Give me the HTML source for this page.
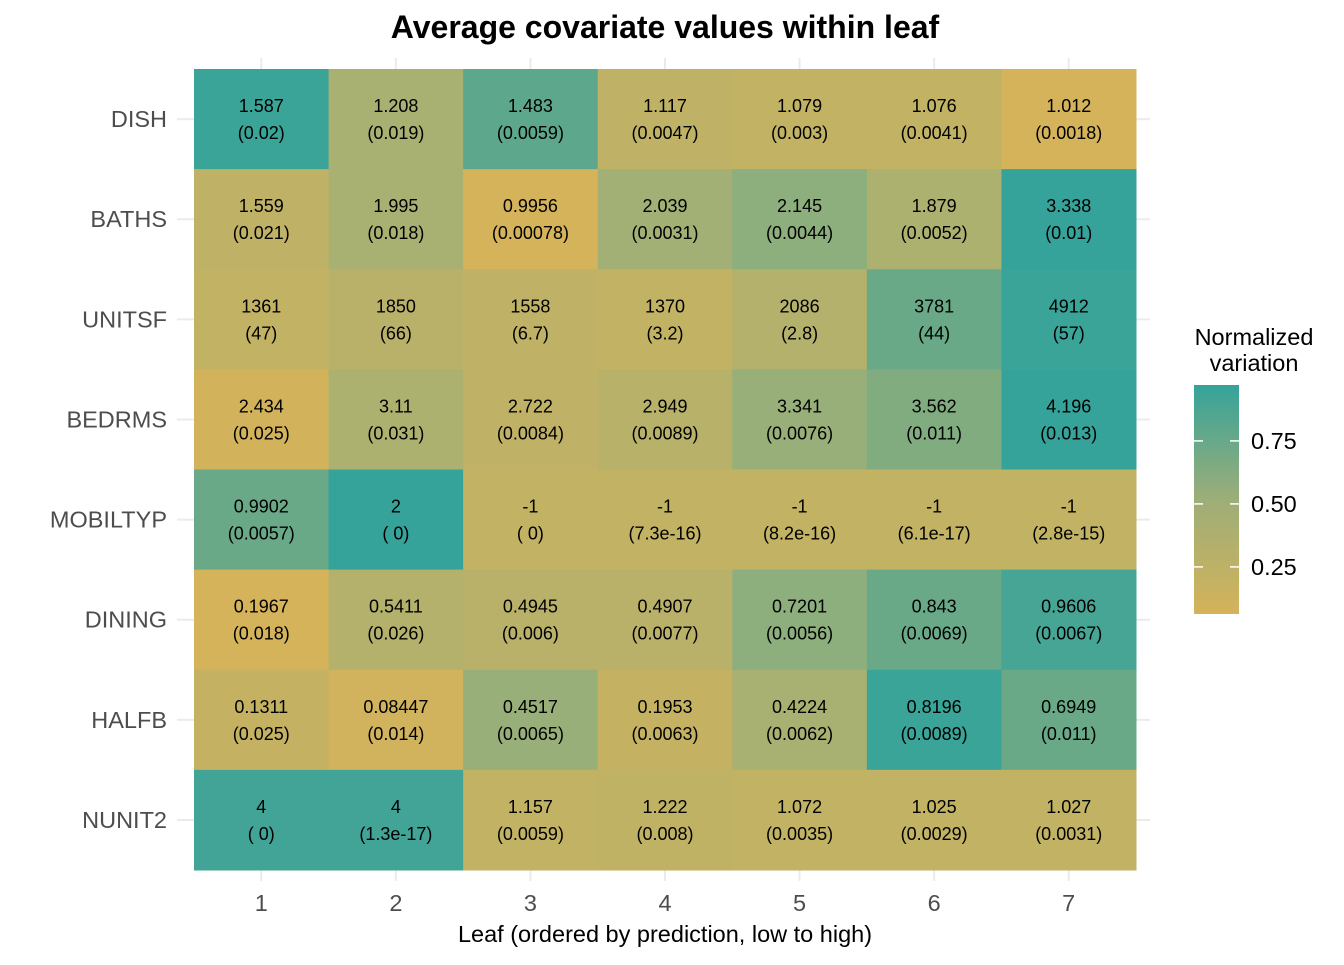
<!DOCTYPE html>
<html><head><meta charset="utf-8"><style>
body{margin:0;background:#fff;font-family:"Liberation Sans",Arial,sans-serif;}
</style></head><body>
<svg id="chart" width="1344" height="960" xmlns="http://www.w3.org/2000/svg" font-family="Liberation Sans, Arial, sans-serif">
<defs><linearGradient id="lg" x1="0" y1="1" x2="0" y2="0">
<stop offset="0" stop-color="#D4B35A"/><stop offset="0.5" stop-color="#9DAE78"/><stop offset="1" stop-color="#35A39A"/></linearGradient></defs>
<text x="665" y="38" text-anchor="middle" font-size="32" font-weight="bold" fill="#000">Average covariate values within leaf</text>
<g id="grid"></g><g id="cells"></g><g id="yaxis"></g><g id="xaxis"></g>
<text x="665" y="942" text-anchor="middle" font-size="23.5" fill="#000">Leaf (ordered by prediction, low to high)</text>
<g>
<text x="1254" y="345" text-anchor="middle" font-size="23.5">Normalized</text>
<text x="1254" y="371" text-anchor="middle" font-size="23.5">variation</text>
<rect x="1194" y="385" width="45" height="229" fill="url(#lg)"/>
<g id="legticks"></g>
</g>
</svg>
<script>
const leaves=["1","2","3","4","5","6","7"];
const covariates=["DISH","BATHS","UNITSF","BEDRMS","MOBILTYP","DINING","HALFB","NUNIT2"];
const means=[
["1.587","1.208","1.483","1.117","1.079","1.076","1.012"],
["1.559","1.995","0.9956","2.039","2.145","1.879","3.338"],
["1361","1850","1558","1370","2086","3781","4912"],
["2.434","3.11","2.722","2.949","3.341","3.562","4.196"],
["0.9902","2","-1","-1","-1","-1","-1"],
["0.1967","0.5411","0.4945","0.4907","0.7201","0.843","0.9606"],
["0.1311","0.08447","0.4517","0.1953","0.4224","0.8196","0.6949"],
["4","4","1.157","1.222","1.072","1.025","1.027"]];
const ses=[
["(0.02)","(0.019)","(0.0059)","(0.0047)","(0.003)","(0.0041)","(0.0018)"],
["(0.021)","(0.018)","(0.00078)","(0.0031)","(0.0044)","(0.0052)","(0.01)"],
["(47)","(66)","(6.7)","(3.2)","(2.8)","(44)","(57)"],
["(0.025)","(0.031)","(0.0084)","(0.0089)","(0.0076)","(0.011)","(0.013)"],
["(0.0057)","( 0)","( 0)","(7.3e-16)","(8.2e-16)","(6.1e-17)","(2.8e-15)"],
["(0.018)","(0.026)","(0.006)","(0.0077)","(0.0056)","(0.0069)","(0.0067)"],
["(0.025)","(0.014)","(0.0065)","(0.0063)","(0.0062)","(0.0089)","(0.011)"],
["( 0)","(1.3e-17)","(0.0059)","(0.008)","(0.0035)","(0.0029)","(0.0031)"]];
const normalized=[
[0.95,0.45,0.80,0.25,0.22,0.22,0.06],
[0.25,0.45,0.06,0.50,0.60,0.40,0.97],
[0.22,0.30,0.25,0.22,0.35,0.75,0.95],
[0.08,0.40,0.25,0.32,0.55,0.65,0.97],
[0.75,0.97,0.22,0.22,0.22,0.22,0.22],
[0.06,0.35,0.30,0.30,0.60,0.75,0.90],
[0.20,0.10,0.55,0.20,0.45,0.95,0.75],
[0.92,0.92,0.22,0.24,0.22,0.22,0.22]];
const legendTicks=[0.25,0.5,0.75];
const NS="http://www.w3.org/2000/svg";
const X0=194,X1=1136,Y0=69,Y1=870;
const cw=(X1-X0)/leaves.length, rh=(Y1-Y0)/covariates.length;
const xc=i=>X0+cw*(i+0.5), yc=j=>Y0+rh*(j+0.5);
const lmin=0.063,lmax=0.972;
const ly=v=>614-(v-lmin)/(lmax-lmin)*229;
function mix(a,b,t){return a.map((x,i)=>Math.round(x+(b[i]-x)*t));}
function color(v){const c0=[212,179,90],c1=[160,176,118],c2=[53,163,154];
 let t=Math.max(0,Math.min(1,(v-lmin)/(lmax-lmin)));
 const c=t<0.5?mix(c0,c1,t*2):mix(c1,c2,(t-0.5)*2);return `rgb(${c})`;}
function mk(tag,attrs,parent,txt){const e=document.createElementNS(NS,tag);for(const k in attrs)e.setAttribute(k,attrs[k]);if(txt!==undefined)e.textContent=txt;parent.appendChild(e);return e;}
const grid=document.getElementById('grid'),cells=document.getElementById('cells'),ya=document.getElementById('yaxis'),xa=document.getElementById('xaxis');
covariates.forEach((c,j)=>{
 const l=mk('line',{x1:177,x2:1150,y1:yc(j),y2:yc(j),stroke:'#ebebeb','stroke-width':2},grid);
 
 
 const t=mk('text',{x:167,y:yc(j)+8,'text-anchor':'end','font-size':23.5,fill:'#4d4d4d'},ya,c);
 
 
});
leaves.forEach((lf,i)=>{
 const l=mk('line',{x1:xc(i),x2:xc(i),y1:58,y2:881,stroke:'#ebebeb','stroke-width':2},grid);
 
 
 const t=mk('text',{x:xc(i),y:911,'text-anchor':'middle','font-size':23.5,fill:'#4d4d4d'},xa,lf);
 
 
});
covariates.forEach((c,j)=>leaves.forEach((lf,i)=>{
 const r=mk('rect',{x:X0+cw*i,y:Y0+rh*j,width:cw+0.5,height:rh+0.5,fill:color(normalized[j][i])},cells);
 
 
 const t1=mk('text',{x:xc(i),y:yc(j)-7,'text-anchor':'middle','font-size':18,fill:'#000'},cells,means[j][i]);
 
 
 const t2=mk('text',{x:xc(i),y:yc(j)+20,'text-anchor':'middle','font-size':18,fill:'#000'},cells,ses[j][i]);
 
 
}));
const lt=document.getElementById('legticks');
legendTicks.forEach(v=>{
 mk('line',{x1:1194,x2:1203,y1:ly(v),y2:ly(v),stroke:'#fff','stroke-width':1.5},lt);
 mk('line',{x1:1230,x2:1239,y1:ly(v),y2:ly(v),stroke:'#fff','stroke-width':1.5},lt);
 const t=mk('text',{x:1251,y:ly(v)+8,'font-size':23.5,fill:'#000'},lt,v.toFixed(2));
 
 
});
</script>
</body></html>
